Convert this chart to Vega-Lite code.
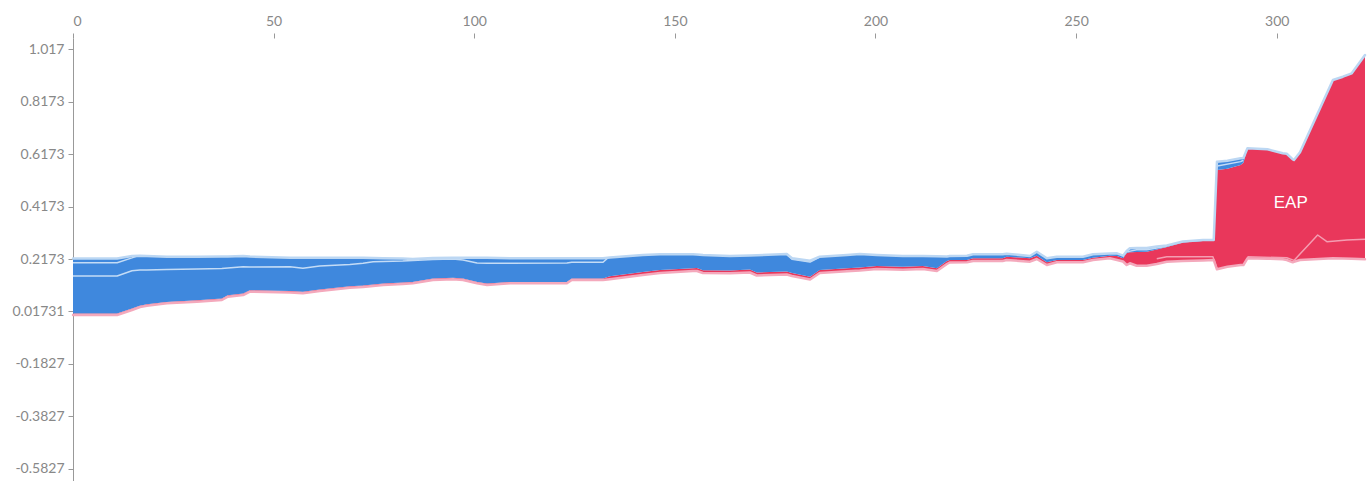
{
  "$schema": "https://vega.github.io/schema/vega-lite/v6.json",
  "width": 1292,
  "height": 443,
  "autosize": "none",
  "padding": {"left": 73, "top": 38, "right": 5, "bottom": 0},
  "background": "white",
  "config": {"view": {"stroke": null}},
  "datasets": {
    "main": [
      {"x": 0, "hi": 0.219, "f": 0.0093, "lo": 0.0036},
      {"x": 11, "hi": 0.219, "f": 0.0093, "lo": 0.0036},
      {"x": 14.7, "hi": 0.2288, "f": 0.0284, "lo": 0.0226},
      {"x": 16.7, "hi": 0.2299, "f": 0.0391, "lo": 0.0341},
      {"x": 18.4, "hi": 0.2288, "f": 0.0445, "lo": 0.0391},
      {"x": 23.4, "hi": 0.2261, "f": 0.0535, "lo": 0.0482},
      {"x": 30.9, "hi": 0.2261, "f": 0.06, "lo": 0.0543},
      {"x": 37.1, "hi": 0.2268, "f": 0.0665, "lo": 0.0608},
      {"x": 38.6, "hi": 0.2268, "f": 0.079, "lo": 0.0734},
      {"x": 42.4, "hi": 0.2288, "f": 0.0855, "lo": 0.0799},
      {"x": 44.1, "hi": 0.2268, "f": 0.098, "lo": 0.0925},
      {"x": 54.1, "hi": 0.2223, "f": 0.095, "lo": 0.0894},
      {"x": 57.3, "hi": 0.2223, "f": 0.092, "lo": 0.0864},
      {"x": 61.5, "hi": 0.2223, "f": 0.101, "lo": 0.0952},
      {"x": 69, "hi": 0.2223, "f": 0.1135, "lo": 0.1078},
      {"x": 72.3, "hi": 0.2223, "f": 0.116, "lo": 0.1104},
      {"x": 74.8, "hi": 0.2211, "f": 0.12, "lo": 0.1142},
      {"x": 77.3, "hi": 0.2204, "f": 0.124, "lo": 0.1181},
      {"x": 82.2, "hi": 0.219, "f": 0.1275, "lo": 0.1219},
      {"x": 84.7, "hi": 0.2173, "f": 0.13, "lo": 0.1246},
      {"x": 89.7, "hi": 0.2211, "f": 0.143, "lo": 0.1371},
      {"x": 94.7, "hi": 0.2223, "f": 0.1455, "lo": 0.1398},
      {"x": 97.2, "hi": 0.2223, "f": 0.143, "lo": 0.1371},
      {"x": 100.7, "hi": 0.2223, "f": 0.13, "lo": 0.1246},
      {"x": 103.2, "hi": 0.2223, "f": 0.1235, "lo": 0.1181},
      {"x": 108.9, "hi": 0.22, "f": 0.13, "lo": 0.1246},
      {"x": 123.1, "hi": 0.22, "f": 0.13, "lo": 0.1246},
      {"x": 124.3, "hi": 0.22, "f": 0.143, "lo": 0.1371},
      {"x": 132.1, "hi": 0.22, "f": 0.143, "lo": 0.1371},
      {"x": 133.8, "hi": 0.223, "f": 0.151, "lo": 0.14},
      {"x": 142, "hi": 0.2326, "f": 0.168, "lo": 0.1565},
      {"x": 146.3, "hi": 0.2352, "f": 0.175, "lo": 0.1635},
      {"x": 154.5, "hi": 0.2352, "f": 0.1818, "lo": 0.1715},
      {"x": 155.5, "hi": 0.2345, "f": 0.183, "lo": 0.1715},
      {"x": 157, "hi": 0.2326, "f": 0.174, "lo": 0.1639},
      {"x": 163.7, "hi": 0.2288, "f": 0.1734, "lo": 0.1627},
      {"x": 168.7, "hi": 0.2307, "f": 0.1772, "lo": 0.1658},
      {"x": 170.4, "hi": 0.2314, "f": 0.1658, "lo": 0.1543},
      {"x": 177.9, "hi": 0.2364, "f": 0.1696, "lo": 0.1581},
      {"x": 179.2, "hi": 0.22, "f": 0.164, "lo": 0.1524},
      {"x": 183.7, "hi": 0.2108, "f": 0.1497, "lo": 0.1391},
      {"x": 186.1, "hi": 0.2261, "f": 0.1753, "lo": 0.1639},
      {"x": 192.9, "hi": 0.2326, "f": 0.1818, "lo": 0.1705},
      {"x": 196.1, "hi": 0.2364, "f": 0.1849, "lo": 0.1734},
      {"x": 200.3, "hi": 0.2326, "f": 0.1906, "lo": 0.1791},
      {"x": 206.8, "hi": 0.2288, "f": 0.1879, "lo": 0.1765},
      {"x": 211.8, "hi": 0.2288, "f": 0.1906, "lo": 0.1791},
      {"x": 215.3, "hi": 0.2276, "f": 0.1818, "lo": 0.1715},
      {"x": 217.8, "hi": 0.2268, "f": 0.2097, "lo": 0.1982},
      {"x": 218.5, "hi": 0.2288, "f": 0.2135, "lo": 0.2039},
      {"x": 222.8, "hi": 0.2299, "f": 0.2135, "lo": 0.2047},
      {"x": 224.3, "hi": 0.2352, "f": 0.22, "lo": 0.2097},
      {"x": 231.7, "hi": 0.2352, "f": 0.22, "lo": 0.2097},
      {"x": 232.7, "hi": 0.2375, "f": 0.2261, "lo": 0.2135},
      {"x": 238.5, "hi": 0.2288, "f": 0.22, "lo": 0.207},
      {"x": 240.2, "hi": 0.2452, "f": 0.2299, "lo": 0.2173},
      {"x": 242.7, "hi": 0.22, "f": 0.2047, "lo": 0.1944},
      {"x": 245.2, "hi": 0.2261, "f": 0.2135, "lo": 0.2047},
      {"x": 251.7, "hi": 0.2261, "f": 0.2135, "lo": 0.2047},
      {"x": 254.2, "hi": 0.2352, "f": 0.2223, "lo": 0.2135},
      {"x": 258.4, "hi": 0.2383, "f": 0.2299, "lo": 0.22},
      {"x": 260.2, "hi": 0.2391, "f": 0.2288, "lo": 0.2135},
      {"x": 261.7, "hi": 0.2299, "f": 0.22, "lo": 0.2078},
      {"x": 262.6, "hi": 0.2478, "f": 0.2402, "lo": 0.1944},
      {"x": 263.4, "hi": 0.2581, "f": 0.2429, "lo": 0.2009},
      {"x": 265.1, "hi": 0.2593, "f": 0.244, "lo": 0.1917},
      {"x": 267.6, "hi": 0.2593, "f": 0.2452, "lo": 0.1917},
      {"x": 270.1, "hi": 0.265, "f": 0.2536, "lo": 0.1982},
      {"x": 272.6, "hi": 0.2688, "f": 0.2631, "lo": 0.207},
      {"x": 276.6, "hi": 0.2841, "f": 0.2803, "lo": 0.2097},
      {"x": 281.6, "hi": 0.2898, "f": 0.286, "lo": 0.2116},
      {"x": 284.3, "hi": 0.2898, "f": 0.286, "lo": 0.2135},
      {"x": 285.1, "hi": 0.5887, "f": 0.557, "lo": 0.178},
      {"x": 287.7, "hi": 0.592, "f": 0.562, "lo": 0.1879},
      {"x": 291, "hi": 0.6017, "f": 0.5761, "lo": 0.1944},
      {"x": 291.7, "hi": 0.6028, "f": 0.585, "lo": 0.1944},
      {"x": 292.7, "hi": 0.6398, "f": 0.6398, "lo": 0.22},
      {"x": 297.7, "hi": 0.636, "f": 0.636, "lo": 0.2185},
      {"x": 301.5, "hi": 0.6207, "f": 0.6207, "lo": 0.2162},
      {"x": 302.5, "hi": 0.619, "f": 0.619, "lo": 0.2135},
      {"x": 304, "hi": 0.5975, "f": 0.5975, "lo": 0.2047},
      {"x": 304.3, "hi": 0.5952, "f": 0.5952, "lo": 0.207},
      {"x": 305.8, "hi": 0.625, "f": 0.625, "lo": 0.2135},
      {"x": 314, "hi": 0.9005, "f": 0.9005, "lo": 0.22},
      {"x": 316.5, "hi": 0.9131, "f": 0.9131, "lo": 0.219},
      {"x": 318.7, "hi": 0.9261, "f": 0.9261, "lo": 0.2185},
      {"x": 322, "hi": 0.9959, "f": 0.9959, "lo": 0.2162}
    ],
    "seps": [
      {"seg": "a", "kind": "b", "x": 0, "v": 0.2032},
      {"seg": "a", "kind": "b", "x": 11, "v": 0.2032},
      {"seg": "a", "kind": "b", "x": 14.7, "v": 0.2215},
      {"seg": "a", "kind": "b", "x": 16, "v": 0.229},
      {"seg": "b", "kind": "b", "x": 0, "v": 0.1524},
      {"seg": "b", "kind": "b", "x": 11, "v": 0.1524},
      {"seg": "b", "kind": "b", "x": 14.7, "v": 0.1726},
      {"seg": "b", "kind": "b", "x": 16.7, "v": 0.1753},
      {"seg": "b", "kind": "b", "x": 18.4, "v": 0.1753},
      {"seg": "b", "kind": "b", "x": 23.4, "v": 0.1772},
      {"seg": "b", "kind": "b", "x": 30.9, "v": 0.1791},
      {"seg": "b", "kind": "b", "x": 37.1, "v": 0.181},
      {"seg": "b", "kind": "b", "x": 38.6, "v": 0.1829},
      {"seg": "b", "kind": "b", "x": 42.4, "v": 0.1879},
      {"seg": "b", "kind": "b", "x": 44.1, "v": 0.1868},
      {"seg": "b", "kind": "b", "x": 54.1, "v": 0.1879},
      {"seg": "b", "kind": "b", "x": 57.3, "v": 0.1818},
      {"seg": "b", "kind": "b", "x": 61.5, "v": 0.1906},
      {"seg": "b", "kind": "b", "x": 69, "v": 0.1963},
      {"seg": "b", "kind": "b", "x": 72.3, "v": 0.2009},
      {"seg": "b", "kind": "b", "x": 74.8, "v": 0.207},
      {"seg": "b", "kind": "b", "x": 77.3, "v": 0.2078},
      {"seg": "b", "kind": "b", "x": 82.2, "v": 0.2097},
      {"seg": "b", "kind": "b", "x": 84.7, "v": 0.2116},
      {"seg": "b", "kind": "b", "x": 89.7, "v": 0.2154},
      {"seg": "b", "kind": "b", "x": 94.7, "v": 0.2173},
      {"seg": "b", "kind": "b", "x": 97.2, "v": 0.2135},
      {"seg": "b", "kind": "b", "x": 100.7, "v": 0.202},
      {"seg": "b", "kind": "b", "x": 103.2, "v": 0.2009},
      {"seg": "b", "kind": "b", "x": 108.9, "v": 0.2009},
      {"seg": "b", "kind": "b", "x": 123.1, "v": 0.202},
      {"seg": "b", "kind": "b", "x": 124.3, "v": 0.2047},
      {"seg": "b", "kind": "b", "x": 132.1, "v": 0.2047},
      {"seg": "b", "kind": "b", "x": 133.3, "v": 0.2215},
      {"seg": "c", "kind": "b", "x": 177.9, "v": 0.2345},
      {"seg": "c", "kind": "b", "x": 179.2, "v": 0.2165},
      {"seg": "c", "kind": "b", "x": 183.7, "v": 0.2059},
      {"seg": "c", "kind": "b", "x": 186.1, "v": 0.2242},
      {"seg": "d", "kind": "b", "x": 262.6, "v": 0.2445},
      {"seg": "d", "kind": "b", "x": 265.1, "v": 0.2525},
      {"seg": "d", "kind": "b", "x": 267.6, "v": 0.2525},
      {"seg": "d", "kind": "b", "x": 270.1, "v": 0.259},
      {"seg": "d", "kind": "b", "x": 272.6, "v": 0.266},
      {"seg": "e", "kind": "b", "x": 285.2, "v": 0.572},
      {"seg": "e", "kind": "b", "x": 291, "v": 0.589},
      {"seg": "e", "kind": "b", "x": 291.7, "v": 0.594},
      {"seg": "r1", "kind": "r", "x": 270.1, "v": 0.218},
      {"seg": "r1", "kind": "r", "x": 272.6, "v": 0.2261},
      {"seg": "r1", "kind": "r", "x": 284.1, "v": 0.2261},
      {"seg": "r1", "kind": "r", "x": 285, "v": 0.185},
      {"seg": "r2", "kind": "r", "x": 292.7, "v": 0.226},
      {"seg": "r2", "kind": "r", "x": 302.5, "v": 0.222},
      {"seg": "r2", "kind": "r", "x": 304.3, "v": 0.212},
      {"seg": "r2", "kind": "r", "x": 308.3, "v": 0.2772},
      {"seg": "r2", "kind": "r", "x": 310.2, "v": 0.3089},
      {"seg": "r2", "kind": "r", "x": 312.5, "v": 0.2833},
      {"seg": "r2", "kind": "r", "x": 317.5, "v": 0.2898},
      {"seg": "r2", "kind": "r", "x": 322, "v": 0.2925}
    ],
    "labels": [
      {"x": 303.5, "y": 0.431, "label": "EAP"}
    ]
  },
  "layer": [
    {
      "data": {"name": "main"},
      "mark": {"type": "area", "color": "#e9375b", "interpolate": "linear"},
      "encoding": {
        "x": {
          "field": "x", "type": "quantitative", "title": null,
          "scale": {"domain": [0, 322], "nice": false, "zero": false},
          "axis": {
            "orient": "top", "values": [0, 50, 100, 150, 200, 250, 300],
            "domain": false, "grid": false, "tickSize": 5, "tickColor": "#999999",
            "labelColor": "#888888", "labelFontSize": 14, "labelFont": "Lato",
            "labelPadding": 5
          }
        },
        "y": {
          "field": "lo", "type": "quantitative", "title": null,
          "scale": {"domain": [-0.63, 1.0608], "nice": false, "zero": false},
          "axis": {
            "values": [1.017, 0.8173, 0.6173, 0.4173, 0.2173, 0.01731, -0.1827, -0.3827, -0.5827],
            "labelExpr": "'' + datum.value",
            "grid": false, "domainColor": "#999999", "tickColor": "#999999", "tickSize": 5,
            "labelColor": "#888888", "labelFontSize": 14, "labelFont": "Lato", "labelPadding": 4
          }
        },
        "y2": {"field": "f"}
      }
    },
    {
      "data": {"name": "main"},
      "mark": {"type": "area", "color": "#3f88dd", "interpolate": "linear"},
      "encoding": {
        "x": {"field": "x", "type": "quantitative", "title": null},
        "y": {"field": "f", "type": "quantitative", "title": null},
        "y2": {"field": "hi"}
      }
    },
    {
      "data": {"name": "main"},
      "mark": {"type": "line", "color": "#f4a9bc", "strokeWidth": 2.5, "strokeCap": "round", "strokeJoin": "round"},
      "encoding": {
        "x": {"field": "x", "type": "quantitative", "title": null},
        "y": {"field": "lo", "type": "quantitative", "title": null}
      }
    },
    {
      "data": {"name": "seps"},
      "mark": {"type": "line", "strokeWidth": 1.5, "strokeJoin": "round"},
      "encoding": {
        "x": {"field": "x", "type": "quantitative", "title": null},
        "y": {"field": "v", "type": "quantitative", "title": null},
        "detail": {"field": "seg"},
        "color": {
          "field": "kind", "type": "nominal", "legend": null,
          "scale": {"domain": ["b", "r"], "range": ["#c4dcf6", "#f49db2"]}
        }
      }
    },
    {
      "data": {"name": "main"},
      "mark": {"type": "line", "color": "#bcd7f3", "strokeWidth": 2.5, "strokeCap": "round", "strokeJoin": "round"},
      "encoding": {
        "x": {"field": "x", "type": "quantitative", "title": null},
        "y": {"field": "hi", "type": "quantitative", "title": null}
      }
    },
    {
      "data": {"name": "labels"},
      "mark": {"type": "text", "color": "white", "fontSize": 17, "font": "Liberation Sans", "align": "center", "baseline": "middle"},
      "encoding": {
        "x": {"field": "x", "type": "quantitative", "title": null},
        "y": {"field": "y", "type": "quantitative", "title": null},
        "text": {"field": "label"}
      }
    }
  ]
}
